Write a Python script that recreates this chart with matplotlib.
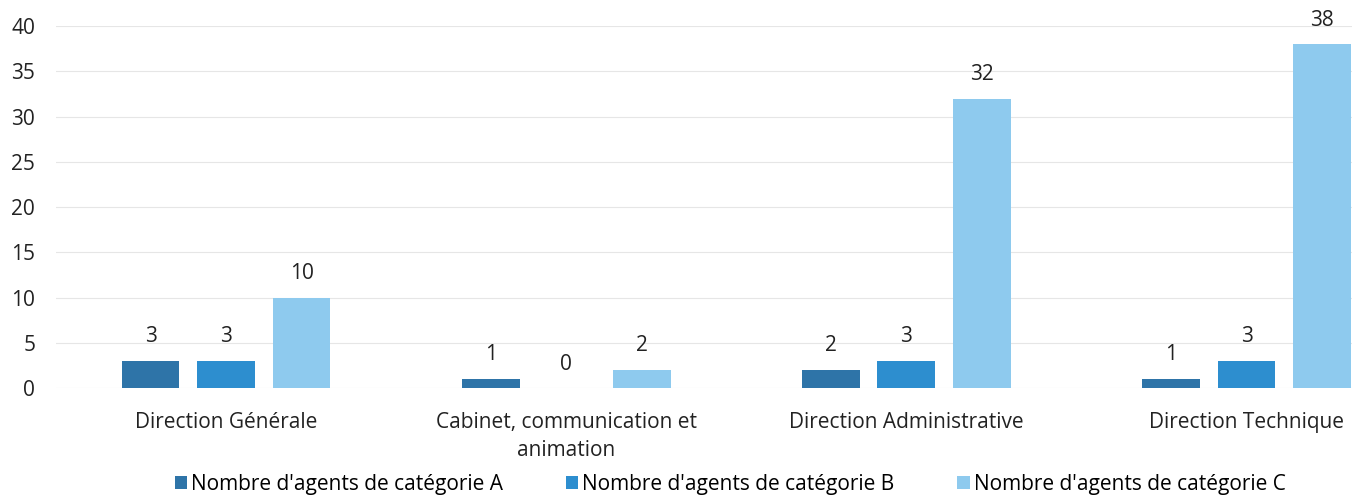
import matplotlib
matplotlib.use("Agg")
import matplotlib.pyplot as plt
import numpy as np

plt.rcParams['font.family'] = ['Open Sans', 'DejaVu Sans']

categories = ["Direction Générale", "Cabinet, communication et\nanimation",
              "Direction Administrative", "Direction Technique"]
series_names = ["Nombre d'agents de catégorie A",
                "Nombre d'agents de catégorie B",
                "Nombre d'agents de catégorie C"]
cat_a = [3, 1, 2, 1]
cat_b = [3, 0, 3, 3]
cat_c = [10, 2, 32, 38]
colors = ["#2e74a8", "#2d8ecf", "#8ecaee"]

fig = plt.figure(figsize=(13.52, 4.95), dpi=100)
ax = fig.add_axes([0.0414, 0.216, 0.9586, 0.731])

x = np.arange(len(categories))
width = 0.17
step = 0.222
for i, (vals, name, col) in enumerate(zip([cat_a, cat_b, cat_c], series_names, colors)):
    pos = x + (i - 1) * step
    ax.bar(pos, vals, width, color=col, label=name, zorder=3)
    for p, v in zip(pos, vals):
        ax.text(p, v + 1.5, str(v), ha='center', va='bottom', fontsize=15,
                color='#222222', clip_on=False)

ax.set_ylim(0, 40)
ax.set_xlim(-0.5, 3.31)
ax.set_yticks(range(0, 41, 5))
ax.yaxis.grid(True, color='#e6e6e6', linewidth=0.8, zorder=0)
ax.set_axisbelow(True)
for s in ax.spines.values():
    s.set_visible(False)
ax.tick_params(axis='both', length=0, labelsize=15, colors='#222222')
ax.tick_params(axis='y', pad=15)
ax.set_xticks(x)
ax.set_xticklabels(categories, fontsize=15, linespacing=1.45)
ax.tick_params(axis='x', pad=17)

handles, labels = ax.get_legend_handles_labels()
fig.legend(handles, labels, loc='lower center', ncol=3, frameon=False,
           fontsize=15, bbox_to_anchor=(0.540, -0.038), handlelength=0.6,
           handleheight=0.6, handletextpad=0.2, columnspacing=3.0)

fig.savefig("out.png", dpi=100)
